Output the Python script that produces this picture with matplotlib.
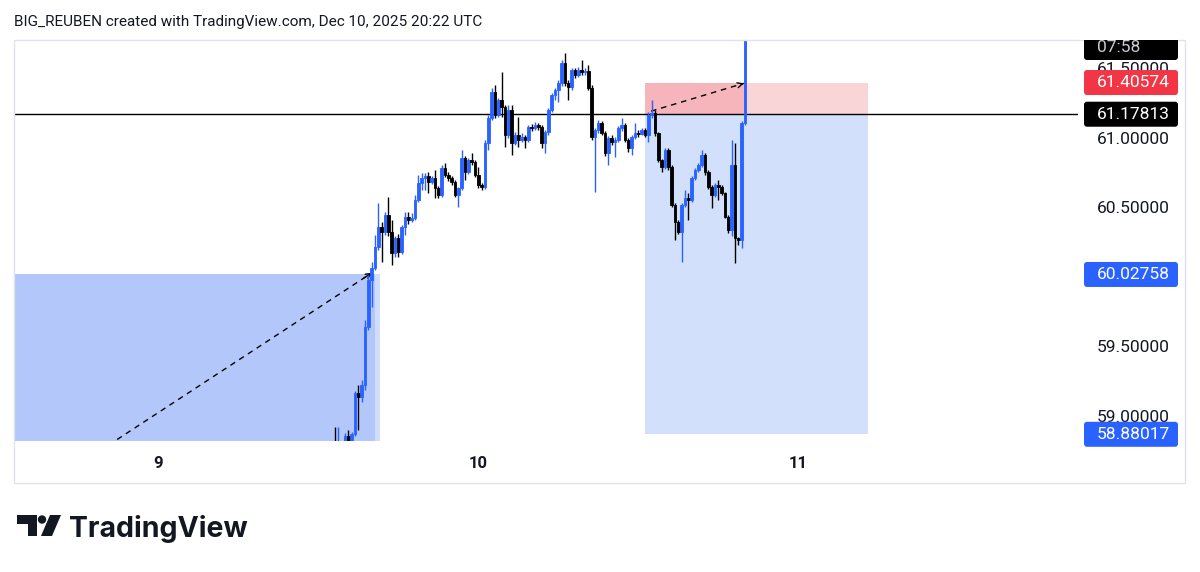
import numpy as np
import matplotlib
matplotlib.use("Agg")
import matplotlib.pyplot as plt
from matplotlib.patches import Rectangle, Polygon, Circle, FancyBboxPatch

plt.rcParams['font.family'] = ['Roboto', 'DejaVu Sans']

# 15 minute bars, time in days of December 2025 (UTC)
bar_start = 9 + 13 / 24
bar_step = 15 / (24 * 60)
first_open = 58.72

closes = [58.74, 58.76, 58.75, 58.78, 58.80, 58.87, 58.84, 58.88, 59.177, 59.148,
          59.234, 59.650, 59.988, 60.074, 60.225, 60.368, 60.332, 60.454, 60.332, 60.182,
          60.289, 60.189, 60.368, 60.440, 60.419, 60.433, 60.562, 60.684, 60.720, 60.734,
          60.691, 60.720, 60.648, 60.598, 60.792, 60.742, 60.720, 60.691, 60.598, 60.648,
          60.864, 60.763, 60.849, 60.835, 60.742, 60.670, 60.655, 60.971, 61.151, 61.337,
          61.172, 61.280, 61.230, 61.029, 61.208, 60.971, 61.029, 60.993, 61.014, 60.993,
          61.086, 61.079, 61.101, 61.086, 60.971, 61.050, 61.208, 61.316, 61.352, 61.402,
          61.546, 61.402, 61.373, 61.495, 61.459, 61.495, 61.481, 61.488, 61.366, 61.014,
          61.065, 61.115, 61.043, 60.899, 61.007, 60.979, 60.993, 61.079, 61.101, 60.993,
          60.935, 61.014, 61.043, 61.036, 61.065, 61.029, 61.172, 61.187, 61.043, 60.849,
          60.799, 60.921, 60.799, 60.526, 60.404, 60.332, 60.526, 60.576, 60.562, 60.720,
          60.777, 60.813, 60.885, 60.763, 60.655, 60.598, 60.670, 60.655, 60.612, 60.440,
          60.347, 60.813, 60.289, 60.275, 61.115, 61.950]
highs = [58.78, 58.80, 58.933, 58.93, 58.83, 58.89, 58.91, 58.90, 59.19, 59.234,
         59.269, 59.701, 60.024, 60.117, 60.311, 60.541, 60.404, 60.476, 60.584, 60.419,
         60.304, 60.318, 60.383, 60.476, 60.476, 60.469, 60.598, 60.742, 60.756, 60.756,
         60.763, 60.734, 60.777, 60.663, 60.813, 60.828, 60.763, 60.734, 60.706, 60.655,
         60.921, 60.878, 60.864, 60.899, 60.849, 60.799, 60.684, 60.993, 61.172, 61.366,
         61.388, 61.294, 61.481, 61.244, 61.244, 61.244, 61.050, 61.158, 61.043, 61.029,
         61.101, 61.108, 61.122, 61.115, 61.101, 61.065, 61.223, 61.330, 61.366, 61.424,
         61.567, 61.617, 61.424, 61.510, 61.510, 61.517, 61.567, 61.510, 61.531, 61.388,
         61.079, 61.136, 61.129, 61.058, 61.022, 61.029, 61.014, 61.093, 61.151, 61.115,
         61.007, 61.029, 61.115, 61.065, 61.079, 61.079, 61.194, 61.280, 61.208, 61.050,
         60.857, 60.935, 60.935, 60.813, 60.541, 60.419, 60.541, 60.634, 60.612, 60.734,
         60.792, 60.828, 60.921, 60.899, 60.777, 60.670, 60.684, 60.706, 60.670, 60.620,
         60.454, 60.993, 60.971, 60.296, 61.129, 62.000]
lows = [58.70, 58.72, 58.71, 58.73, 58.75, 58.78, 58.80, 58.82, 58.87, 58.911,
        59.112, 59.198, 59.628, 59.794, 60.059, 60.203, 60.117, 60.311, 60.304, 60.095,
        60.153, 60.153, 60.174, 60.311, 60.390, 60.404, 60.419, 60.548, 60.634, 60.634,
        60.612, 60.677, 60.576, 60.576, 60.584, 60.727, 60.699, 60.670, 60.584, 60.512,
        60.634, 60.706, 60.749, 60.813, 60.727, 60.648, 60.634, 60.641, 60.921, 61.136,
        61.151, 61.158, 61.158, 60.943, 61.007, 60.885, 60.957, 60.943, 60.979, 60.935,
        60.979, 61.058, 61.065, 61.065, 60.935, 60.899, 61.029, 61.194, 61.280, 61.266,
        61.381, 61.381, 61.280, 61.352, 61.438, 61.445, 61.459, 61.459, 61.352, 60.993,
        60.620, 61.043, 61.029, 60.878, 60.813, 60.957, 60.871, 60.979, 61.058, 60.979,
        60.907, 60.885, 61.000, 61.014, 61.029, 61.014, 60.979, 61.151, 61.022, 60.835,
        60.763, 60.785, 60.777, 60.512, 60.275, 60.318, 60.117, 60.512, 60.419, 60.548,
        60.706, 60.763, 60.799, 60.742, 60.641, 60.505, 60.584, 60.562, 60.598, 60.433,
        60.325, 60.304, 60.110, 60.239, 60.217, 61.101]

# 60.00000 sits under the 60.02758 label in the reference, so it is left out
price_ticks = [59.0, 59.5, 60.5, 61.0, 61.5]
day_ticks = [9, 10, 11]
day_labels = ["9", "10", "11"]

# position tools
entry_price = 61.17813
stop_price = 61.40574
target_price = 58.88017
left_target = 60.02758
left_box_end = 9.6875
pos_start = 10.53125
pos_end = 11.229
pos_now = 10.84375
left_path_t = [8.80, 9.678]
left_path_p = [58.72, 60.04]
right_path_t = [10.55, 10.84]
right_path_p = [61.20, 61.40]
countdown = "07:58"

UP = '#2962ff'
DOWN = '#000000'

fig = plt.figure(figsize=(12, 5.72), dpi=100)
ax = fig.add_axes([15 / 1200, 1 - 441 / 572, 1063 / 1200, 401 / 572])
ax.set_xlim(8.5625, 11.884)
ax.set_ylim(58.832, 61.711)
ax.axis('off')

times = bar_start + bar_step * np.arange(len(closes))
opens = [first_open] + closes[:-1]

# position tool boxes
ax.add_patch(Rectangle((8.0, 57.0), left_box_end - 8.0, left_target - 57.0,
                       color='#b3c7fa', lw=0, zorder=1))
ax.add_patch(Rectangle((left_box_end, 57.0), 0.016, left_target - 57.0,
                       color='#d0ddfc', lw=0, zorder=1))
ax.add_patch(Rectangle((pos_start, target_price), pos_end - pos_start, entry_price - target_price,
                       color='#d2e0fb', lw=0, zorder=1))
ax.add_patch(Rectangle((pos_start, entry_price), pos_end - pos_start, stop_price - entry_price,
                       color='#fad5d8', lw=0, zorder=1))
ax.add_patch(Rectangle((pos_start, entry_price), pos_now - pos_start, stop_price - entry_price,
                       color='#f6b5ba', lw=0, zorder=1))

ax.axhline(entry_price, color='black', lw=1, zorder=2)

for pt, pp in [(left_path_t, left_path_p), (right_path_t, right_path_p)]:
    ax.plot(pt, pp, color='black', lw=1, ls=(0, (4, 3.5)), zorder=3)
    ax.annotate('', xy=(pt[1], pp[1]),
                xytext=(pt[1] - (pt[1] - pt[0]) * 0.03, pp[1] - (pp[1] - pp[0]) * 0.03),
                arrowprops=dict(arrowstyle='->', color='black', lw=1,
                                mutation_scale=9, shrinkA=0, shrinkB=0), zorder=3)

# candles
cols = [UP if c >= o else DOWN for o, c in zip(opens, closes)]
ax.vlines(times, lows, highs, colors=cols, lw=1.0, zorder=4)
bottoms = [min(o, c) for o, c in zip(opens, closes)]
heights = [max(abs(c - o), 0.007) for o, c in zip(opens, closes)]
ax.bar(times, heights, bottom=bottoms, width=bar_step * 0.8, color=cols,
       edgecolor=cols, lw=0.6, zorder=5)

# overlay in pixel coordinates for the scales and decoration
ov = fig.add_axes([0, 0, 1, 1])
ov.set_xlim(0, 1200)
ov.set_ylim(572, 0)
ov.axis('off')
ov.patch.set_alpha(0)


def py(p):
    return 572 - ax.transData.transform((ax.get_xlim()[0], p))[1]


def px(t):
    return ax.transData.transform((t, ax.get_ylim()[0]))[0]


ov.add_patch(Rectangle((14, 39.5), 1171, 443.5, fill=False, ec='#e0e3eb', lw=1))

for p in price_ticks:
    ov.text(1097, py(p), f"{p:.5f}", fontsize=12.5, color='#131722', va='center', ha='left')

for t, lab in zip(day_ticks, day_labels):
    ov.text(px(t) + 3, 463, lab, fontsize=12, fontweight='bold', color='#131722',
            ha='center', va='center')


def price_label(y, text, fc, tc='white'):
    ov.add_patch(FancyBboxPatch((1084, y - 12.5), 94, 25,
                                boxstyle='round,pad=0,rounding_size=3', fc=fc, ec='none', zorder=5))
    ov.text(1097, y, text, fontsize=12.5, color=tc, va='center', ha='left', zorder=6)


ov.add_patch(FancyBboxPatch((1084, 36), 94, 24, boxstyle='round,pad=0,rounding_size=3',
                            fc='black', ec='none', zorder=5))
ov.text(1097, 48, countdown, fontsize=12.5, color='#c9cbd1', va='center', ha='left', zorder=6)
ov.add_patch(Rectangle((1080, 30), 100, 10, fc='white', ec='none', zorder=5.5))
price_label(py(stop_price), f"{stop_price:.5f}", '#f23645')
price_label(py(entry_price), f"{entry_price:.5f}", 'black')
price_label(py(left_target), f"{left_target:.5f}", UP)
price_label(py(target_price), f"{target_price:.5f}", UP)

fig.text(14 / 1200, 1 - 22 / 572, "BIG_REUBEN created with TradingView.com, Dec 10, 2025 20:22 UTC",
         fontsize=11, color='#131722', va='center', ha='left')

# TradingView logo
ov.add_patch(Polygon([(17, 515), (37, 515), (37, 536), (28, 536), (28, 523.5), (17, 523.5)],
                     closed=True, fc='#131722', ec='none'))
ov.add_patch(Circle((42, 519.5), 4.2, fc='#131722', ec='none'))
ov.add_patch(Polygon([(50, 515), (61, 515), (52, 536), (41, 536)], closed=True, fc='#131722', ec='none'))
ov.text(69, 537, "TradingView", fontsize=20.5, fontweight='bold', color='#131722',
        family=['Inter', 'DejaVu Sans'], va='baseline', ha='left')

fig.savefig('out.png', dpi=100, facecolor='white')
